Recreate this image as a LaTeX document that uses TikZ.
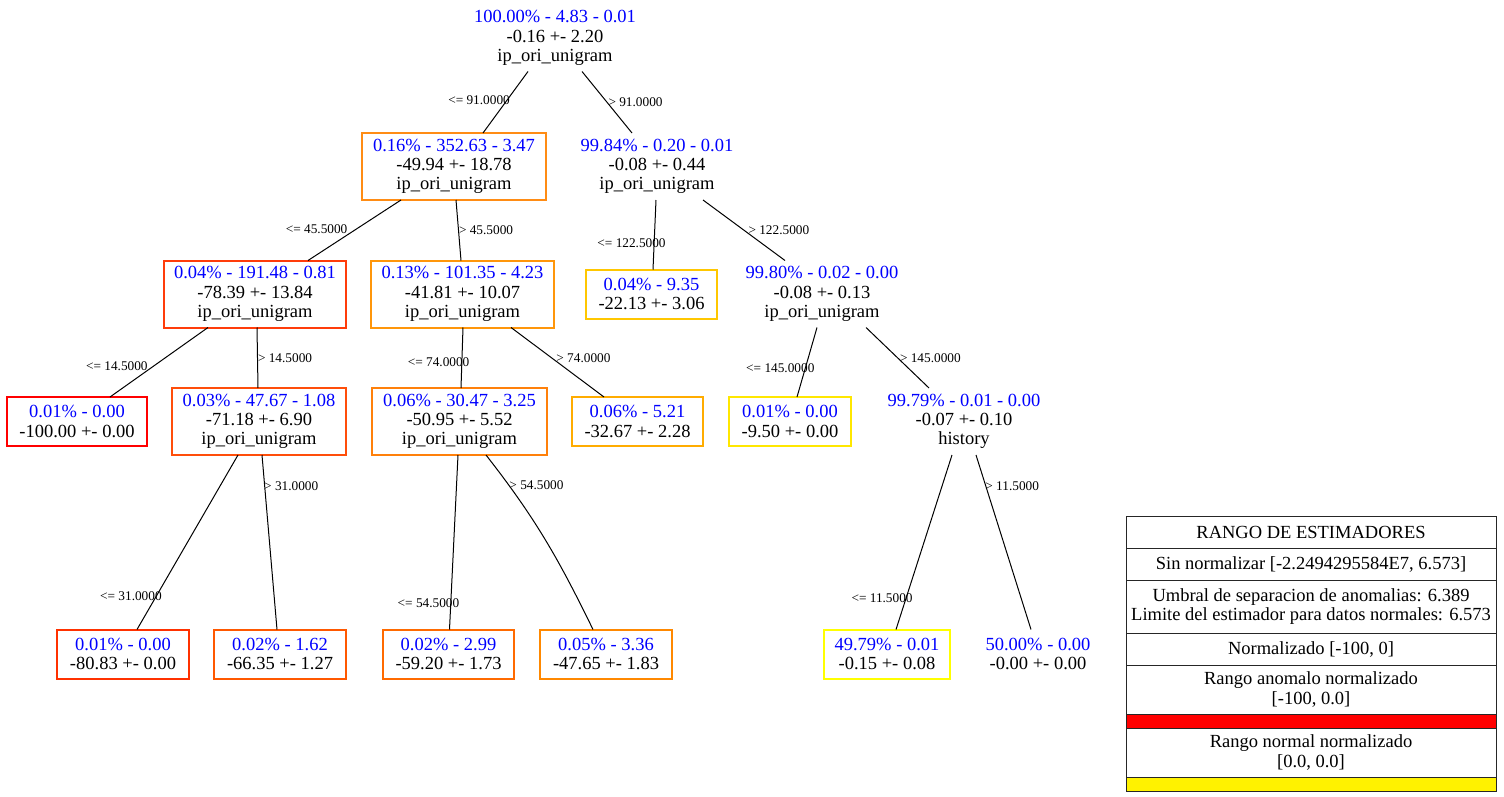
\documentclass[tikz,border=0pt]{standalone}
\usepackage{fontspec}
\setmainfont{Liberation Serif}
\usetikzlibrary{positioning}
\definecolor{tb}{RGB}{0,0,255}
\definecolor{e100}{RGB}{255,0,0}
\definecolor{e81}{RGB}{255,49,0}
\definecolor{e78}{RGB}{255,60,10}
\definecolor{e71}{RGB}{255,78,10}
\definecolor{e66}{RGB}{255,88,0}
\definecolor{e59}{RGB}{255,106,0}
\definecolor{e51}{RGB}{255,128,10}
\definecolor{e50}{RGB}{255,140,20}
\definecolor{e48}{RGB}{255,136,0}
\definecolor{e42}{RGB}{255,150,10}
\definecolor{e33}{RGB}{255,172,0}
\definecolor{e22}{RGB}{255,199,0}
\definecolor{e10}{RGB}{255,231,0}
\definecolor{e00}{RGB}{255,255,0}
\newcommand{\ndfont}{\fontsize{18.5}{19.3}\selectfont}
\newcommand{\lbfont}{\fontsize{13.3}{15}\selectfont}
\tikzset{
  tn/.style 2 args={rectangle,draw=#1,line width=2pt,minimum width=#2,
    minimum height=67pt,align=center,font=\ndfont,inner sep=3pt,outer sep=0pt},
  ln/.style 2 args={rectangle,draw=#1,line width=2pt,minimum width=#2,
    minimum height=49pt,align=center,font=\ndfont,inner sep=3pt,outer sep=0pt},
  un/.style={rectangle,minimum height=67pt,align=center,font=\ndfont,
    inner sep=3pt,outer sep=0pt},
  ul/.style={rectangle,minimum height=49pt,align=center,font=\ndfont,
    inner sep=3pt,outer sep=0pt},
  el/.style={font=\lbfont,inner sep=0pt},
  eg/.style={line width=1pt,draw=black},
  lg/.style={rectangle,draw=black!85,line width=1pt,minimum width=370pt,
    minimum height=#1,align=center,font=\ndfont,inner sep=0pt,outer sep=0pt},
  lg/.default=32pt,
}
\begin{document}
\begin{tikzpicture}
  \useasboundingbox (0pt,0pt) rectangle (1504pt,-797pt);

    % ── Tree nodes ────────────────────────────────────────────────────────────
    \node[un] (root) at (555pt,-38pt)
      {{\color{tb}100.00\% - 4.83 - 0.01}\\-0.16 +- 2.20\\ip\_ori\_unigram};

    \node[tn={e50}{184pt},below=61.5pt of root,xshift=-101pt] (n1)
      {{\color{tb}0.16\% - 352.63 - 3.47}\\-49.94 +- 18.78\\ip\_ori\_unigram};
    \node[un,below=61.5pt of root,xshift=102pt] (n2)
      {{\color{tb}99.84\% - 0.20 - 0.01}\\-0.08 +- 0.44\\ip\_ori\_unigram};

    \node[tn={e78}{182pt},below=60.5pt of n1,xshift=-199pt] (n3)
      {{\color{tb}0.04\% - 191.48 - 0.81}\\-78.39 +- 13.84\\ip\_ori\_unigram};
    \node[tn={e42}{183pt},below=60.5pt of n1,xshift=8.5pt] (n4)
      {{\color{tb}0.13\% - 101.35 - 4.23}\\-41.81 +- 10.07\\ip\_ori\_unigram};
    \node[ln={e22}{131pt},below=69.5pt of n2,xshift=-5.5pt] (n5)
      {{\color{tb}0.04\% - 9.35}\\-22.13 +- 3.06};
    \node[un,below=60.5pt of n2,xshift=165pt] (n6)
      {{\color{tb}99.80\% - 0.02 - 0.00}\\-0.08 +- 0.13\\ip\_ori\_unigram};

    \node[ln={e100}{140pt},below=69.5pt of n3,xshift=-178pt] (n7)
      {{\color{tb}0.01\% - 0.00}\\-100.00 +- 0.00};
    \node[tn={e71}{174pt},below=60.5pt of n3,xshift=4pt] (n8)
      {{\color{tb}0.03\% - 47.67 - 1.08}\\-71.18 +- 6.90\\ip\_ori\_unigram};
    \node[tn={e51}{175pt},below=60.5pt of n4,xshift=-3pt] (n9)
      {{\color{tb}0.06\% - 30.47 - 3.25}\\-50.95 +- 5.52\\ip\_ori\_unigram};
    \node[ln={e33}{131pt},below=69.5pt of n4,xshift=175pt] (n10)
      {{\color{tb}0.06\% - 5.21}\\-32.67 +- 2.28};
    \node[ln={e10}{122pt},below=69.5pt of n6,xshift=-32pt] (n11)
      {{\color{tb}0.01\% - 0.00}\\-9.50 +- 0.00};
    \node[un,below=60.5pt of n6,xshift=142pt] (n12)
      {{\color{tb}99.79\% - 0.01 - 0.00}\\-0.07 +- 0.10\\history};

    \node[ln={e81}{132pt},below=174.5pt of n8,xshift=-136pt] (n13)
      {{\color{tb}0.01\% - 0.00}\\-80.83 +- 0.00};
    \node[ln={e66}{132pt},below=174.5pt of n8,xshift=21pt] (n14)
      {{\color{tb}0.02\% - 1.62}\\-66.35 +- 1.27};
    \node[ln={e59}{131pt},below=174.5pt of n9,xshift=-11pt] (n15)
      {{\color{tb}0.02\% - 2.99}\\-59.20 +- 1.73};
    \node[ln={e48}{132pt},below=174.5pt of n9,xshift=146.5pt] (n16)
      {{\color{tb}0.05\% - 3.36}\\-47.65 +- 1.83};
    \node[ln={e00}{126pt},below=174.5pt of n12,xshift=-77pt] (n17)
      {{\color{tb}49.79\% - 0.01}\\-0.15 +- 0.08};
    \node[ul,below=174.5pt of n12,xshift=74pt] (n18)
      {{\color{tb}50.00\% - 0.00}\\-0.00 +- 0.00};

    % ── Splits ────────────────────────────────────────────────────────────────
    \draw[eg] ([xshift=-27pt]root.south) -- node[el,pos=0.46,anchor=east,xshift=3pt] {<= 91.0000} ([xshift=29pt]n1.north);
    \draw[eg] ([xshift=27pt]root.south) -- node[el,pos=0.5,anchor=west,xshift=1pt] {> 91.0000} ([xshift=-25pt]n2.north);

    \draw[eg] ([xshift=-53pt]n1.south) -- node[el,pos=0.48,anchor=east,xshift=-8.5pt] {<= 45.5000} ([xshift=53pt]n3.north);
    \draw[eg] ([xshift=2pt]n1.south) -- node[el,pos=0.5,anchor=west] {> 45.5000} ([xshift=-1.5pt]n4.north);
    \draw[eg] ([xshift=-1pt]n2.south) -- node[el,pos=0.62,anchor=east,xshift=12pt] {<= 122.5000} ([xshift=1.5pt]n5.north);
    \draw[eg] ([xshift=46pt]n2.south) -- node[el,pos=0.5,anchor=west,xshift=4pt] {> 122.5000} ([xshift=-37pt]n6.north);

    \draw[eg] ([xshift=-47pt]n3.south) -- node[el,pos=0.55,anchor=east,xshift=-6pt] {<= 14.5000} ([xshift=33pt]n7.north);
    \draw[eg] ([xshift=2pt]n3.south) -- node[el,pos=0.5,anchor=west] {> 14.5000} ([xshift=-1pt]n8.north);
    \draw[eg] ([xshift=0.5pt]n4.south) -- node[el,pos=0.57,anchor=east,xshift=8pt] {<= 74.0000} ([xshift=1.5pt]n9.north);
    \draw[eg] ([xshift=48.5pt]n4.south) -- node[el,pos=0.44,anchor=west,xshift=4pt] {> 74.0000} ([xshift=-33.5pt]n10.north);
    \draw[eg] ([xshift=-5pt]n6.south) -- node[el,pos=0.58,anchor=east,xshift=9.5pt] {<= 145.0000} ([xshift=7pt]n11.north);
    \draw[eg] ([xshift=44pt]n6.south) -- node[el,pos=0.5,anchor=west,xshift=2pt] {> 145.0000} ([xshift=-35pt]n12.north);

    \draw[eg] ([xshift=-21pt]n8.south) -- node[el,pos=0.81,anchor=east,xshift=6pt] {<= 31.0000} ([xshift=14pt]n13.north);
    \draw[eg] ([xshift=3pt]n8.south) -- node[el,pos=0.18,anchor=west,xshift=-1pt] {> 31.0000} ([xshift=-3pt]n14.north);
    \draw[eg] ([xshift=-1.5pt]n9.south) -- node[el,pos=0.85,anchor=east,xshift=9pt] {<= 54.5000} ([xshift=1pt]n15.north);
    \draw[eg] ([xshift=26.5pt]n9.south) to[out=-52,in=116] node[el,pos=0.17,anchor=west] {> 54.5000} ([xshift=-13pt]n16.north);
    \draw[eg] ([xshift=-12pt]n12.south) -- node[el,pos=0.82,anchor=east,xshift=7pt] {<= 11.5000} ([xshift=9pt]n17.north);
    \draw[eg] ([xshift=12pt]n12.south) -- node[el,pos=0.18,anchor=west,xshift=-1pt] {> 11.5000} ([xshift=-7pt]n18.north);

    % ── Legend ────────────────────────────────────────────────────────────────
    \node[lg] (lhd) at (1311pt,-532pt) {RANGO DE ESTIMADORES};
    \node[lg,below=0pt of lhd] (lsn) {Sin normalizar [-2.2494295584E7, 6.573]};
    \node[lg=53pt,below=0pt of lsn] (lum)
      {Umbral de separacion de anomalias: 6.389\\Limite del estimador para datos normales: 6.573};
    \node[lg,below=0pt of lum] (lno) {Normalizado [-100, 0]};
    \node[lg=49pt,below=0pt of lno] (lan) {Rango anomalo normalizado\\{}[-100, 0.0]};
    \node[lg=14pt,fill=red,below=0pt of lan] (lrd) {};
    \node[lg=49pt,below=0pt of lrd] (lnn) {Rango normal normalizado\\{}[0.0, 0.0]};
    \node[lg=14pt,fill=yellow,below=0pt of lnn] (lye) {};

  \end{tikzpicture}
\end{document}
